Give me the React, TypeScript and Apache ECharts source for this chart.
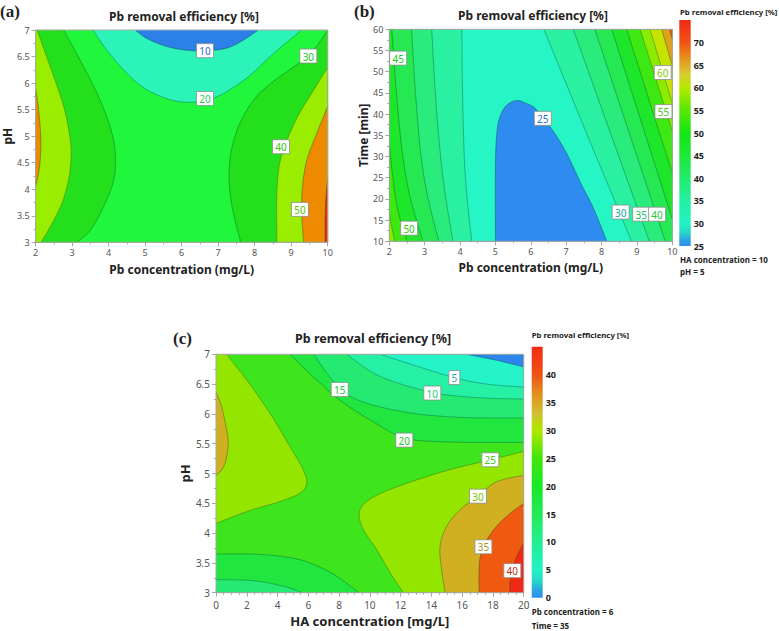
import React, { useEffect, useRef } from 'react';
import * as echarts from 'echarts';

type Pt = [number, number];
type Lab = [number, number, string];

const FONT = '"Noto Sans", "Open Sans", sans-serif';

// ================= (a) Pb concentration (mg/L) x pH =================
// band colours: <10, 10-20, 20-30, 30-40, 40-50, 50-60, >60
const aBandColors = ['#2d80e8', '#2cf4b8', '#20f63c', '#24e01c', '#9aec00', '#ee8a00', '#ea2a12'];
const aC10: Pt[] = [[4.73, 7], [5.05, 6.84], [5.59, 6.69], [6.14, 6.62], [6.69, 6.61], [7.24, 6.66], [7.69, 6.81], [8.1, 7]];
const aC20: Pt[] = [[3.57, 7], [3.95, 6.62], [4.41, 6.25], [4.86, 5.96], [5.32, 5.78], [5.78, 5.67], [6.14, 5.64], [6.51, 5.65], [6.96, 5.74], [7.42, 5.92], [7.88, 6.15], [8.33, 6.44], [8.79, 6.72], [9.29, 7]];
const aC30L: Pt[] = [[2.77, 7], [3.22, 6.43], [3.68, 5.81], [4.04, 5.18], [4.18, 4.68], [4.14, 4.17], [3.86, 3.67], [3.5, 3.23], [3.13, 3]];
const aC40L: Pt[] = [[2.04, 7], [2.4, 6.31], [2.77, 5.56], [2.95, 4.93], [2.97, 4.55], [2.9, 4.17], [2.72, 3.73], [2.4, 3.29], [2.15, 3]];
const aC50L: Pt[] = [[2, 5.9], [2.08, 5.5], [2.14, 5.0], [2.13, 4.6], [2.08, 4.3], [2, 4.05]];
const aC30R: Pt[] = [[10, 7], [9.47, 6.52], [8.45, 6.0], [7.97, 5.68], [7.6, 5.25], [7.38, 4.8], [7.3, 4.35], [7.33, 3.9], [7.45, 3.45], [7.62, 3]];
const aC40R: Pt[] = [[10, 6.3], [9.6, 5.85], [9.2, 5.4], [8.9, 4.95], [8.72, 4.6], [8.63, 4.2], [8.6, 3.7], [8.61, 3]];
const aC50R: Pt[] = [[10, 5.56], [9.7, 5.05], [9.43, 4.55], [9.31, 4.05], [9.29, 3.54], [9.34, 3]];
const aC60R: Pt[] = [[10, 4.2], [9.95, 3.8], [9.93, 3.4], [9.93, 3]];
const aLabels: Lab[] = [[6.64, 6.61, '10'], [6.64, 5.71, '20'], [9.47, 6.51, '30'], [8.72, 4.8, '40'], [9.24, 3.62, '50']];
const aLabelColors = ['#2a70d8', '#22cc55', '#22c822', '#33c811', '#55c400'];

// ================= (b) Pb concentration (mg/L) x Time (min) =================
// band colours: <25, 25-30, 30-35, ..., 70-75
const bBandColors = ['#2e8cf0', '#26f5c6', '#2af0a2', '#2aec7c', '#26e852', '#1ee62a', '#3ee812', '#8aec00', '#c4e400', '#e0a018', '#f04a12'];
const bC25: Pt[] = [[5.0, 10], [5.0, 27.6], [5.04, 35.5], [5.13, 39.4], [5.32, 42.1], [5.6, 43.2], [5.88, 42.5], [6.12, 41.4], [6.35, 39.0], [6.64, 35.9], [7.01, 30.8], [7.39, 24.1], [7.77, 17.8], [8.15, 10]];
const bC30L: Pt[] = [[4.05, 60], [4.07, 45], [4.12, 30], [4.2, 20], [4.33, 10]];
const bC35L: Pt[] = [[3.2, 60], [3.3, 45], [3.45, 30], [3.6, 20], [3.8, 10]];
const bC40L: Pt[] = [[2.63, 60], [2.74, 45], [2.9, 30], [3.1, 20], [3.4, 10]];
const bC45L: Pt[] = [[2.07, 60], [2.2, 45], [2.38, 30], [2.6, 20], [2.95, 10]];
const bC50L: Pt[] = [[2, 33], [2.1, 25], [2.25, 17], [2.5, 10]];
const bC55L: Pt[] = [[2, 17], [2.08, 13], [2.15, 10]];
const bC30R: Pt[] = [[6.37, 60], [7.6, 35], [8.85, 10]];
const bC35R: Pt[] = [[7.2, 60], [9.35, 10]];
const bC40R: Pt[] = [[7.81, 60], [9.8, 10]];
const bC45R: Pt[] = [[8.29, 60], [10, 15.2]];
const bC50R: Pt[] = [[8.71, 60], [10, 26]];
const bC55R: Pt[] = [[9.09, 60], [10, 36]];
const bC60R: Pt[] = [[9.37, 60], [10, 42.5]];
const bC65R: Pt[] = [[9.7, 60], [10, 51.4]];
const bC70R: Pt[] = [[9.92, 60], [10, 57.7]];
const bLabels: Lab[] = [[2.25, 53.2, '45'], [2.56, 13.1, '50'], [6.34, 39.0, '25'], [8.54, 16.9, '30'], [9.12, 16.4, '35'], [9.57, 16.4, '40'], [9.75, 40.6, '55'], [9.73, 49.8, '60']];
const bLabelColors = ['#22c822', '#33c811', '#2a70d8', '#14a8a0', '#22c060', '#22c833', '#44c822', '#88c800'];
const bBarValues = [25, 26.5, 28, 30, 35, 40, 45, 50, 55, 60, 63, 66, 70, 75];
const bBarColors = ['#2f8ef0', '#2aa8e0', '#26d8c8', '#22f2c4', '#24f0a0', '#22ec6c', '#1ee838', '#14e614', '#56e804', '#b4ea00', '#d6cc30', '#e49a20', '#f05214', '#f02a14'];

// ================= (c) HA concentration (mg/L) x pH =================
// band colours: <0, 0-5, 5-10, 10-15, 15-20, 20-25, 25-30, 30-35, 35-40, >40
const cBandColors = ['#2e86ec', '#24f4c8', '#26f0a4', '#24ea72', '#22e640', '#3ee41c', '#94e600', '#d0b020', '#f05a10', '#f02a14'];
const cC0: Pt[] = [[16.29, 7], [18.24, 6.9], [20, 6.79]];
const cC5: Pt[] = [[10.66, 7], [12.83, 6.82], [15.49, 6.61], [17.6, 6.5], [20, 6.45]];
const cC10: Pt[] = [[8.49, 7], [10.66, 6.63], [14.06, 6.36], [17.16, 6.27], [20, 6.25]];
const cC15: Pt[] = [[6.33, 7], [8.04, 6.43], [9.79, 6.18], [12.83, 6.01], [16.08, 5.94], [20, 5.93]];
const cC20: Pt[] = [[4.81, 7], [6.33, 6.62], [8.06, 6.23], [10.01, 5.9], [12.24, 5.6], [14.99, 5.53], [20, 5.52]];
const cC25L: Pt[] = [[0.69, 7], [1.99, 6.57], [3.51, 6.01], [4.81, 5.45], [5.68, 5.06], [5.89, 4.83], [5.46, 4.67], [4.16, 4.53], [1.99, 4.36], [0, 4.16]];
const cC30L: Pt[] = [[0, 6.37], [0.37, 6.12], [0.69, 5.73], [0.8, 5.51], [0.65, 5.23], [0.37, 5.06], [0, 4.97]];
const cC20B: Pt[] = [[0, 3.65], [3, 3.64], [5.5, 3.55], [7.5, 3.33], [9.3, 3.0]];
const cC15B: Pt[] = [[0, 3.22], [2.5, 3.2], [4.5, 3.1], [5.6, 3.0]];
const cC25R: Pt[] = [[20, 5.37], [17.83, 5.23], [15, 5.05], [12, 4.8], [10.2, 4.6], [9.36, 4.39], [9.5, 4.1], [10.5, 3.7], [11.4, 3.3], [12.18, 3.0]];
const cC30R: Pt[] = [[20, 4.97], [18.24, 4.86], [17.03, 4.62], [15.86, 4.39], [14.99, 4.11], [14.56, 3.77], [14.67, 3.38], [14.89, 3.0]];
const cC35R: Pt[] = [[20, 4.5], [18.89, 4.28], [18.03, 4.05], [17.38, 3.77], [17.12, 3.49], [17.1, 3.0]];
const cC40R: Pt[] = [[20, 3.83], [19.55, 3.6], [19.26, 3.37], [19.11, 3.16], [19.11, 3.0]];
const cLabels: Lab[] = [[15.49, 6.61, '5'], [14.06, 6.35, '10'], [8.04, 6.41, '15'], [12.24, 5.56, '20'], [17.83, 5.23, '25'], [17.03, 4.62, '30'], [17.38, 3.77, '35'], [19.26, 3.37, '40']];
const cLabelColors = ['#1aa8a0', '#22cc66', '#22cc44', '#22c822', '#44c811', '#77c400', '#b08a20', '#c03010'];
const cBarValues = [0, 1.5, 3, 5, 10, 15, 20, 25, 30, 33, 36, 40, 45];
const cBarColors = ['#2f8ef0', '#2aa8e0', '#26d8c8', '#22f2c4', '#24ee94', '#22ea58', '#18e828', '#44e410', '#b0e800', '#d0c030', '#e09820', '#f05214', '#f02a14'];

type Region = { curve: Pt[]; close: Pt[]; color: string; plain?: boolean };

const LINE = 'rgba(10,70,50,0.5)';

function smoothPts(pts: number[][]): number[][] {
  if (pts.length < 3) return pts;
  const out: number[][] = [];
  const seg = 10;
  for (let i = 0; i < pts.length - 1; i++) {
    const p0 = pts[i - 1] || pts[i];
    const p1 = pts[i];
    const p2 = pts[i + 1];
    const p3 = pts[i + 2] || pts[i + 1];
    for (let t = 0; t < seg; t++) {
      const s = t / seg;
      const s2 = s * s;
      const s3 = s2 * s;
      const f = (k: number) =>
        0.5 * (2 * p1[k] + (-p0[k] + p2[k]) * s + (2 * p0[k] - 5 * p1[k] + 4 * p2[k] - p3[k]) * s2 + (-p0[k] + 3 * p1[k] - 3 * p2[k] + p3[k]) * s3);
      out.push([f(0), f(1)]);
    }
  }
  out.push(pts[pts.length - 1]);
  return out;
}

function regionSeries(regions: Region[], idx: number) {
  return {
    type: 'custom',
    xAxisIndex: idx,
    yAxisIndex: idx,
    clip: true,
    silent: true,
    z: 2,
    data: regions.map((r) => r.curve[0]),
    renderItem: (params: any, api: any) => {
      const r = regions[params.dataIndex];
      const raw = r.curve.map((p) => api.coord(p));
      const curvePx = r.plain ? raw : smoothPts(raw);
      const closePx = r.close.map((p) => api.coord(p));
      const children: any[] = [
        { type: 'polygon', shape: { points: curvePx.concat(closePx) }, style: { fill: r.color, stroke: r.color, lineWidth: 0.3 } },
      ];
      if (!r.plain) {
        children.push({ type: 'polyline', shape: { points: curvePx }, style: { stroke: LINE, lineWidth: 0.7, fill: 'none' } });
      }
      return { type: 'group', children };
    },
  };
}

function frameSeries(idx: number, x0: number, x1: number, y0: number, y1: number) {
  return {
    type: 'custom',
    xAxisIndex: idx,
    yAxisIndex: idx,
    silent: true,
    z: 4,
    data: [[x0, y0]],
    renderItem: (_p: any, api: any) => {
      const a = api.coord([x0, y1]);
      const b = api.coord([x1, y0]);
      return { type: 'rect', shape: { x: a[0], y: a[1], width: b[0] - a[0], height: b[1] - a[1] }, style: { fill: 'none', stroke: '#a6a6a6', lineWidth: 1 } };
    },
  };
}

function labelSeries(labels: Lab[], colors: string[], idx: number) {
  return {
    type: 'custom',
    xAxisIndex: idx,
    yAxisIndex: idx,
    silent: true,
    z: 6,
    data: labels.map((l) => [l[0], l[1]]),
    renderItem: (params: any, api: any) => {
      const l = labels[params.dataIndex];
      const p = api.coord([l[0], l[1]]);
      const w = 6 * l[2].length + 5;
      const h = 14;
      return {
        type: 'group',
        children: [
          { type: 'rect', shape: { x: p[0] - w / 2, y: p[1] - h / 2, width: w, height: h }, style: { fill: '#ffffff', stroke: '#8c8c8c', lineWidth: 0.8 } },
          {
            type: 'text', x: p[0], y: p[1] + 0.5,
            style: { text: l[2], fill: colors[params.dataIndex], font: `10px ${FONT}`, align: 'center', verticalAlign: 'middle', textAlign: 'center', textVerticalAlign: 'middle' },
          },
        ],
      };
    },
  };
}

function barSeries(idx: number, values: number[], colors: string[]) {
  const lo = values[0];
  const hi = values[values.length - 1];
  const stops = values.map((v, i) => ({ offset: (v - lo) / (hi - lo), color: colors[i] }));
  return {
    type: 'custom',
    xAxisIndex: idx,
    yAxisIndex: idx,
    silent: true,
    data: [[0, lo]],
    renderItem: (_p: any, api: any) => {
      const a = api.coord([0, hi]);
      const b = api.coord([1, lo]);
      return {
        type: 'rect',
        shape: { x: a[0], y: a[1], width: b[0] - a[0], height: b[1] - a[1] },
        style: { fill: new echarts.graphic.LinearGradient(0, 1, 0, 0, stops) },
      };
    },
  };
}

const tickLabel = { fontSize: 9, color: '#555', fontFamily: FONT };
const axisName = { fontSize: 12, fontWeight: 'bold' as const, color: '#222', fontFamily: FONT };
const lineStyle = { lineStyle: { color: '#a6a6a6' } };

function plotXAxis(idx: number, min: number, max: number, interval: number, name: string, gap: number, minorSplit: number) {
  return {
    type: 'value', gridIndex: idx, min, max, interval, name, nameLocation: 'middle', nameGap: gap,
    nameTextStyle: axisName,
    axisLine: { show: true, ...lineStyle },
    axisTick: { show: true, length: 4, ...lineStyle },
    minorTick: { show: true, splitNumber: minorSplit, length: 2, ...lineStyle },
    splitLine: { show: false },
    axisLabel: { ...tickLabel, margin: 6 },
  };
}
function plotYAxis(idx: number, min: number, max: number, interval: number, name: string, gap: number) {
  return {
    type: 'value', gridIndex: idx, min, max, interval, name, nameLocation: 'middle', nameGap: gap,
    nameTextStyle: axisName,
    axisLine: { show: true, ...lineStyle },
    axisTick: { show: true, length: 4, ...lineStyle },
    minorTick: { show: true, splitNumber: 2, length: 2, ...lineStyle },
    splitLine: { show: false },
    axisLabel: { ...tickLabel, margin: 6 },
  };
}

export default function App() {
  const ref = useRef<HTMLDivElement>(null);
  useEffect(() => {
    if (!ref.current) return;
    const chart = echarts.init(ref.current, undefined, { renderer: 'svg' });

    const A = aBandColors;
    const aRegions: Region[] = [
      { curve: [[2, 3], [10, 3], [10, 7], [2, 7]], close: [], color: A[2], plain: true },
      { curve: aC30L, close: [[2, 3], [2, 7]], color: A[3] },
      { curve: aC40L, close: [[2, 3], [2, 7]], color: A[4] },
      { curve: aC50L, close: [], color: A[5] },
      { curve: aC30R, close: [[10, 3]], color: A[3] },
      { curve: aC40R, close: [[10, 3]], color: A[4] },
      { curve: aC50R, close: [[10, 3]], color: A[5] },
      { curve: aC60R, close: [[10, 3]], color: A[6] },
      { curve: aC20, close: [], color: A[1] },
      { curve: aC10, close: [], color: A[0] },
    ];
    const B = bBandColors;
    const bRegions: Region[] = [
      { curve: [[2, 10], [10, 10], [10, 60], [2, 60]], close: [], color: B[1], plain: true },
      { curve: bC25, close: [], color: B[0] },
      { curve: bC30L, close: [[2, 10], [2, 60]], color: B[2] },
      { curve: bC35L, close: [[2, 10], [2, 60]], color: B[3] },
      { curve: bC40L, close: [[2, 10], [2, 60]], color: B[4] },
      { curve: bC45L, close: [[2, 10], [2, 60]], color: B[5] },
      { curve: bC50L, close: [[2, 10]], color: B[6] },
      { curve: bC55L, close: [[2, 10]], color: B[7] },
      { curve: bC30R, close: [[10, 10], [10, 60]], color: B[2] },
      { curve: bC35R, close: [[10, 10], [10, 60]], color: B[3] },
      { curve: bC40R, close: [[10, 10], [10, 60]], color: B[4] },
      { curve: bC45R, close: [[10, 60]], color: B[5] },
      { curve: bC50R, close: [[10, 60]], color: B[6] },
      { curve: bC55R, close: [[10, 60]], color: B[7] },
      { curve: bC60R, close: [[10, 60]], color: B[8] },
      { curve: bC65R, close: [[10, 60]], color: B[9] },
      { curve: bC70R, close: [[10, 60]], color: B[10] },
    ];
    const C = cBandColors;
    const cRegions: Region[] = [
      { curve: [[0, 3], [20, 3], [20, 7], [0, 7]], close: [], color: C[5], plain: true },
      { curve: cC25L, close: [[0, 7]], color: C[6] },
      { curve: cC30L, close: [], color: C[7] },
      { curve: cC20B, close: [[0, 3]], color: C[4] },
      { curve: cC15B, close: [[0, 3]], color: C[3] },
      { curve: cC25R, close: [[20, 3]], color: C[6] },
      { curve: cC30R, close: [[20, 3]], color: C[7] },
      { curve: cC35R, close: [[20, 3]], color: C[8] },
      { curve: cC40R, close: [[20, 3]], color: C[9] },
      { curve: cC20, close: [[20, 7]], color: C[4] },
      { curve: cC15, close: [[20, 7]], color: C[3] },
      { curve: cC10, close: [[20, 7]], color: C[2] },
      { curve: cC5, close: [[20, 7]], color: C[1] },
      { curve: cC0, close: [[20, 7]], color: C[0] },
    ];

    const barAxisY = (idx: number, min: number, max: number) => ({
      type: 'value', gridIndex: idx, min, max, interval: 5, position: 'right',
      axisLine: { show: false }, axisTick: { show: false }, splitLine: { show: false },
      axisLabel: { fontSize: 9, fontWeight: 'bold', color: '#222', fontFamily: FONT, margin: 3, formatter: (v: number) => (v === max ? '' : String(v)) },
    });
    const barAxisX = (idx: number) => ({ type: 'value', gridIndex: idx, min: 0, max: 1, show: false });

    const txt = (text: string, x: number, y: number, font: string, align = 'left', fill = '#222') => ({
      type: 'text', x, y, silent: true,
      style: { text, font, fill, align, verticalAlign: 'middle', textAlign: align, textVerticalAlign: 'middle' },
    });
    const titleFont = `bold 12px ${FONT}`;
    const smallFont = `bold 7.8px ${FONT}`;
    const noteFont = `bold 8px ${FONT}`;
    const panelFont = 'bold 17px "Liberation Serif", "DejaVu Serif", serif';

    chart.setOption({
      animation: false,
      backgroundColor: '#ffffff',
      grid: [
        { left: 35.3, top: 30, width: 292.4, height: 212.3 },
        { left: 389.3, top: 29.3, width: 283, height: 212 },
        { left: 679.3, top: 20, width: 11.4, height: 226 },
        { left: 216, top: 354.3, width: 307.7, height: 238.4 },
        { left: 531.7, top: 346.7, width: 11, height: 251 },
      ],
      xAxis: [
        plotXAxis(0, 2, 10, 1, 'Pb concentration (mg/L)', 21, 2),
        plotXAxis(1, 2, 10, 1, 'Pb concentration (mg/L)', 20, 2),
        barAxisX(2),
        { ...plotXAxis(3, 0, 20, 2, 'HA concentration [mg/L]', 22, 4), nameTextStyle: { ...axisName, fontSize: 13 }, axisLabel: { ...tickLabel, fontSize: 10, margin: 7 } },
        barAxisX(4),
      ],
      yAxis: [
        plotYAxis(0, 3, 7, 0.5, 'pH', 21),
        plotYAxis(1, 10, 60, 5, 'Time [min]', 19),
        barAxisY(2, 25, 75),
        { ...plotYAxis(3, 3, 7, 0.5, 'pH', 21), nameTextStyle: { ...axisName, fontSize: 13 }, axisLabel: { ...tickLabel, fontSize: 10, margin: 6 } },
        barAxisY(4, 0, 45),
      ],
      series: [
        regionSeries(aRegions, 0),
        frameSeries(0, 2, 10, 3, 7),
        labelSeries(aLabels, aLabelColors, 0),
        regionSeries(bRegions, 1),
        frameSeries(1, 2, 10, 10, 60),
        labelSeries(bLabels, bLabelColors, 1),
        barSeries(2, bBarValues, bBarColors),
        regionSeries(cRegions, 3),
        frameSeries(3, 0, 20, 3, 7),
        labelSeries(cLabels, cLabelColors, 3),
        barSeries(4, cBarValues, cBarColors),
      ],
      graphic: [
        txt('(a)', 0, 11, panelFont),
        txt('(b)', 354, 11, panelFont),
        txt('(c)', 173, 338, panelFont),
        txt('Pb removal efficiency [%]', 184, 16, titleFont, 'center'),
        txt('Pb removal efficiency [%]', 533, 15, titleFont, 'center'),
        txt('Pb removal efficiency [%]', 373, 338, `bold 12.5px ${FONT}`, 'center'),
        txt('Pb removal efficiency [%]', 680, 12, smallFont),
        txt('Pb removal efficiency [%]', 531.7, 335, smallFont),
        txt('HA concentration = 10', 680, 259, noteFont),
        txt('pH = 5', 680, 271, noteFont),
        txt('Pb concentration = 6', 531.7, 611.7, noteFont),
        txt('Time = 35', 531.7, 625, noteFont),
      ],
    });
    return () => chart.dispose();
  }, []);
  return <div ref={ref} style={{ position: 'absolute', left: 0, top: 0, width: 779, height: 631, background: '#fff' }} />;
}
